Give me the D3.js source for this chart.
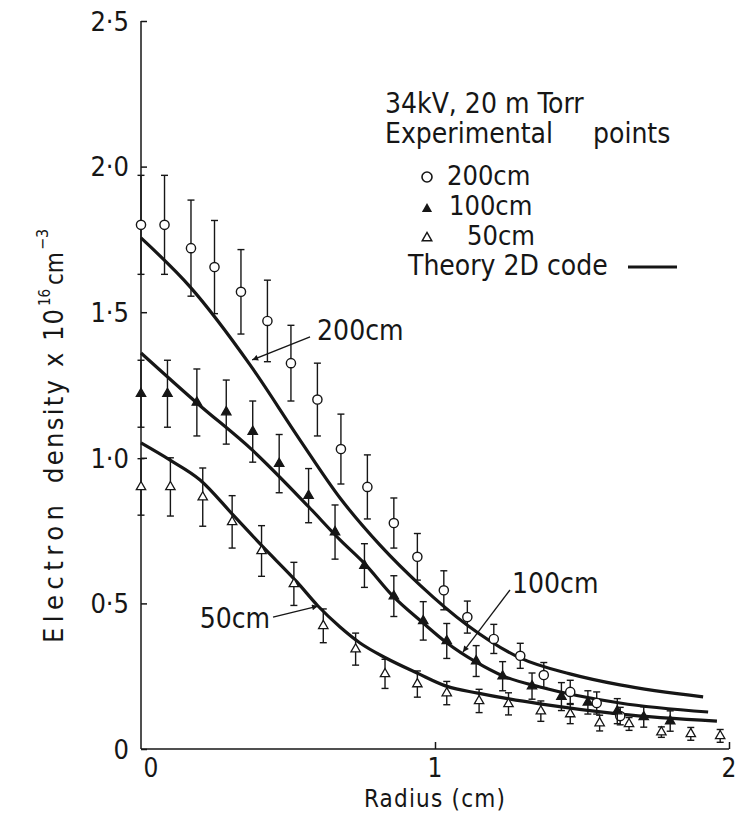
<!DOCTYPE html>
<html>
<head>
<meta charset="utf-8">
<script src="https://cdn.jsdelivr.net/npm/d3@7"></script>
<style>
  body { margin: 0; background: #fff; }
  text { font-family: "DejaVu Sans Condensed", "DejaVu Sans", sans-serif; font-stretch: condensed; fill: #161616; }
</style>
</head>
<body>
<svg id="chart" width="736" height="814"></svg>
<script>
// ---- data (radius in cm, density in 1e16 cm^-3) ----
const r200 = [0, 0.08, 0.17, 0.25, 0.34, 0.43, 0.51, 0.60, 0.68, 0.77, 0.86, 0.94, 1.03, 1.11, 1.20, 1.29, 1.37, 1.46, 1.55, 1.63];
const n200 = [1.80, 1.80, 1.72, 1.655, 1.57, 1.47, 1.325, 1.20, 1.03, 0.90, 0.776, 0.66, 0.545, 0.453, 0.378, 0.32, 0.254, 0.196, 0.158, 0.113];
const e200 = [0.17, 0.17, 0.165, 0.16, 0.145, 0.14, 0.13, 0.125, 0.12, 0.11, 0.086, 0.08, 0.067, 0.055, 0.05, 0.043, 0.043, 0.04, 0.038, 0.03];

const r100 = [0, 0.09, 0.19, 0.29, 0.38, 0.47, 0.57, 0.66, 0.76, 0.86, 0.96, 1.04, 1.14, 1.23, 1.33, 1.43, 1.52, 1.62, 1.71, 1.80];
const n100 = [1.22, 1.22, 1.19, 1.157, 1.09, 0.98, 0.87, 0.745, 0.63, 0.525, 0.44, 0.371, 0.302, 0.25, 0.216, 0.18, 0.16, 0.13, 0.11, 0.096];
const e100 = [0.115, 0.115, 0.115, 0.11, 0.105, 0.1, 0.093, 0.093, 0.075, 0.07, 0.066, 0.06, 0.053, 0.05, 0.045, 0.048, 0.04, 0.043, 0.035, 0.035];

const r50 = [0, 0.10, 0.21, 0.31, 0.41, 0.52, 0.62, 0.73, 0.83, 0.94, 1.04, 1.15, 1.25, 1.36, 1.46, 1.56, 1.66, 1.77, 1.87, 1.97];
const n50 = [0.90, 0.90, 0.865, 0.78, 0.68, 0.567, 0.423, 0.343, 0.258, 0.223, 0.192, 0.165, 0.155, 0.13, 0.12, 0.089, 0.086, 0.058, 0.052, 0.045];
const e50 = [0.097, 0.1, 0.1, 0.09, 0.087, 0.074, 0.058, 0.055, 0.05, 0.045, 0.04, 0.04, 0.038, 0.035, 0.033, 0.027, 0.022, 0.018, 0.022, 0.022];

// theory (2D code) curves
const t200r = [0, 0.167, 0.371, 0.541, 0.677, 0.813, 0.949, 1.109, 1.289, 1.459, 1.629, 1.912];
const t200n = [1.755, 1.587, 1.319, 1.061, 0.862, 0.70, 0.563, 0.426, 0.313, 0.258, 0.22, 0.179];
const t100r = [0, 0.194, 0.378, 0.571, 0.677, 0.762, 0.857, 0.956, 1.041, 1.139, 1.231, 1.357, 1.629, 1.929];
const t100n = [1.36, 1.185, 1.027, 0.831, 0.718, 0.635, 0.525, 0.436, 0.364, 0.299, 0.251, 0.213, 0.158, 0.127];
const t50r = [0, 0.099, 0.201, 0.313, 0.415, 0.531, 0.602, 0.677, 0.745, 0.833, 0.939, 1.041, 1.146, 1.252, 1.357, 1.629, 1.959];
const t50n = [1.051, 0.992, 0.924, 0.804, 0.694, 0.573, 0.491, 0.419, 0.364, 0.3125, 0.261, 0.215, 0.192, 0.172, 0.155, 0.12, 0.096];

const yTicks = [0, 0.5, 1.0, 1.5, 2.0, 2.5];
const yTickLabels = ["0", "0\u00b75", "1\u00b70", "1\u00b75", "2\u00b70", "2\u00b75"];
const xTicks = [0, 1, 2];

// curve labels: [text, labelR, labelN, anchor, arrowFromR, arrowFromN, arrowToR, arrowToN]
const notes = [
  ["200cm", 0.599, 1.405, "start", 0.575, 1.415, 0.378, 1.336],
  ["100cm", 1.262, 0.536, "start", 1.255, 0.546, 1.095, 0.333],
  ["50cm", 0.439, 0.4155, "end", 0.449, 0.453, 0.602, 0.491]
];

const ink = "#161616";
const svg = d3.select("#chart");

const x = d3.scaleLinear().domain([0, 2]).range([141, 729]);
const y = d3.scaleLinear().domain([0, 2.5]).range([749, 21]);

// arrow head
svg.append("defs").append("marker")
  .attr("id", "arr").attr("viewBox", "0 0 10 10")
  .attr("refX", 10).attr("refY", 5)
  .attr("markerWidth", 9).attr("markerHeight", 6)
  .attr("markerUnits", "userSpaceOnUse")
  .attr("orient", "auto")
  .append("path").attr("d", "M0,0 L10,5 L0,10 z").attr("fill", ink);

/* ---------- axes ---------- */
const yAxis = d3.axisRight(y).tickValues(yTicks).tickSize(6).tickFormat("");
const gy = svg.append("g").attr("transform", `translate(${x(0)},0)`).call(yAxis);
gy.select(".domain").attr("d", `M0,${y(2.5)}V${y(0)}`);
gy.selectAll("path,line").attr("stroke", ink).attr("stroke-width", 1.5);

const xAxis = d3.axisTop(x).tickValues([1, 2]).tickSize(7).tickFormat("");
const gx = svg.append("g").attr("transform", `translate(0,${y(0)})`).call(xAxis);
gx.select(".domain").attr("d", `M${x(0)},0H${x(2)}`);
gx.selectAll("path,line").attr("stroke", ink).attr("stroke-width", 1.5);

svg.selectAll(".ylab").data(yTicks).enter().append("text")
  .attr("x", 129).attr("y", d => y(d))
  .attr("dy", "0.36em")
  .attr("text-anchor", "end")
  .attr("font-size", 27)
  .text((d, i) => yTickLabels[i]);

svg.selectAll(".xlab").data(xTicks).enter().append("text")
  .attr("x", d => x(d) + (d === 0 ? 10 : 0))
  .attr("y", y(0) + 28)
  .attr("text-anchor", "middle")
  .attr("font-size", 26)
  .text(d => d);

svg.append("text")
  .attr("x", x(1)).attr("y", 807)
  .attr("text-anchor", "middle")
  .attr("font-size", 24)
  .attr("letter-spacing", 1.2)
  .text("Radius (cm)");

// y title, spaced out like the lettering on the original
const yt = svg.append("text")
  .attr("transform", "translate(63,643) rotate(-90)")
  .attr("font-size", 27);
yt.append("tspan").attr("x", 0).attr("textLength", 138).attr("lengthAdjust", "spacing").text("Electron");
yt.append("tspan").attr("x", 160).attr("textLength", 103).attr("lengthAdjust", "spacing").text("density");
yt.append("tspan").attr("x", 276).text("x");
yt.append("tspan").attr("x", 302).attr("textLength", 32).attr("lengthAdjust", "spacing").text("10");
yt.append("tspan").attr("x", 337).attr("dy", -13).attr("font-size", 15).text("16");
yt.append("tspan").attr("x", 358).attr("dy", 13).attr("font-size", 24).text("cm");
yt.append("tspan").attr("x", 393).attr("dy", -15).attr("font-size", 16).text("\u22123");

/* ---------- theory curves ---------- */
const line = d3.line().x(d => x(d[0])).y(d => y(d[1])).curve(d3.curveMonotoneX);
[[t200r, t200n], [t100r, t100n], [t50r, t50n]].forEach(([rr, nn]) => {
  svg.append("path")
    .datum(rr.map((r, i) => [r, nn[i]]))
    .attr("fill", "none").attr("stroke", ink).attr("stroke-width", 3.2)
    .attr("d", line);
});

/* ---------- experimental points with error bars ---------- */
function drawSeries(rr, nn, ee, kind) {
  const pts = rr.map((r, i) => ({ r: r, n: nn[i], e: ee[i] }));
  const g = svg.append("g");
  const bar = g.selectAll("g").data(pts).enter().append("g");
  bar.append("line")
    .attr("x1", d => x(d.r)).attr("x2", d => x(d.r))
    .attr("y1", d => y(d.n + d.e)).attr("y2", d => y(d.n - d.e))
    .attr("stroke", ink).attr("stroke-width", 1.4);
  [1, -1].forEach(s => {
    bar.append("line")
      .attr("x1", d => x(d.r) - 3.5).attr("x2", d => x(d.r) + 3.5)
      .attr("y1", d => y(d.n + s * d.e)).attr("y2", d => y(d.n + s * d.e))
      .attr("stroke", ink).attr("stroke-width", 1.4);
  });
  if (kind === "circle") {
    bar.append("circle")
      .attr("cx", d => x(d.r)).attr("cy", d => y(d.n)).attr("r", 4.6)
      .attr("fill", "#fff").attr("stroke", ink).attr("stroke-width", 1.4);
  } else {
    bar.append("path")
      .attr("d", d3.symbol(d3.symbolTriangle).size(38))
      .attr("transform", d => `translate(${x(d.r)},${y(d.n)})`)
      .attr("fill", kind === "filled" ? ink : "#fff")
      .attr("stroke", ink).attr("stroke-width", 1.3);
  }
}
drawSeries(r200, n200, e200, "circle");
drawSeries(r100, n100, e100, "filled");
drawSeries(r50, n50, e50, "open");

/* ---------- curve labels with arrows ---------- */
notes.forEach(d => {
  svg.append("line")
    .attr("x1", x(d[4])).attr("y1", y(d[5]))
    .attr("x2", x(d[6])).attr("y2", y(d[7]))
    .attr("stroke", ink).attr("stroke-width", 1.3)
    .attr("marker-end", "url(#arr)");
  svg.append("text")
    .attr("x", x(d[1])).attr("y", y(d[2]))
    .attr("text-anchor", d[3])
    .attr("font-size", 28)
    .text(d[0]);
});

/* ---------- legend ---------- */
const lg = svg.append("g").attr("font-size", 27);
lg.append("text").attr("x", 385).attr("y", 113).attr("font-size", 28).text("34kV, 20 m Torr");
const ex = lg.append("text").attr("x", 385).attr("y", 143).attr("font-size", 28);
ex.append("tspan").text("Experimental");
ex.append("tspan").attr("x", 593).text("points");

lg.append("circle").attr("cx", 427).attr("cy", 177).attr("r", 5)
  .attr("fill", "#fff").attr("stroke", ink).attr("stroke-width", 1.6);
lg.append("text").attr("x", 447).attr("y", 185).text("200cm");

lg.append("path").attr("d", d3.symbol(d3.symbolTriangle).size(45))
  .attr("transform", "translate(427,209)").attr("fill", ink);
lg.append("text").attr("x", 449).attr("y", 215).text("100cm");

lg.append("path").attr("d", d3.symbol(d3.symbolTriangle).size(40))
  .attr("transform", "translate(427,238)")
  .attr("fill", "#fff").attr("stroke", ink).attr("stroke-width", 1.4);
lg.append("text").attr("x", 467).attr("y", 245).text("50cm");

lg.append("text").attr("x", 408).attr("y", 275).attr("font-size", 28).text("Theory 2D code");
lg.append("line").attr("x1", 628).attr("x2", 677).attr("y1", 267).attr("y2", 267)
  .attr("stroke", ink).attr("stroke-width", 3);
</script>
</body>
</html>
